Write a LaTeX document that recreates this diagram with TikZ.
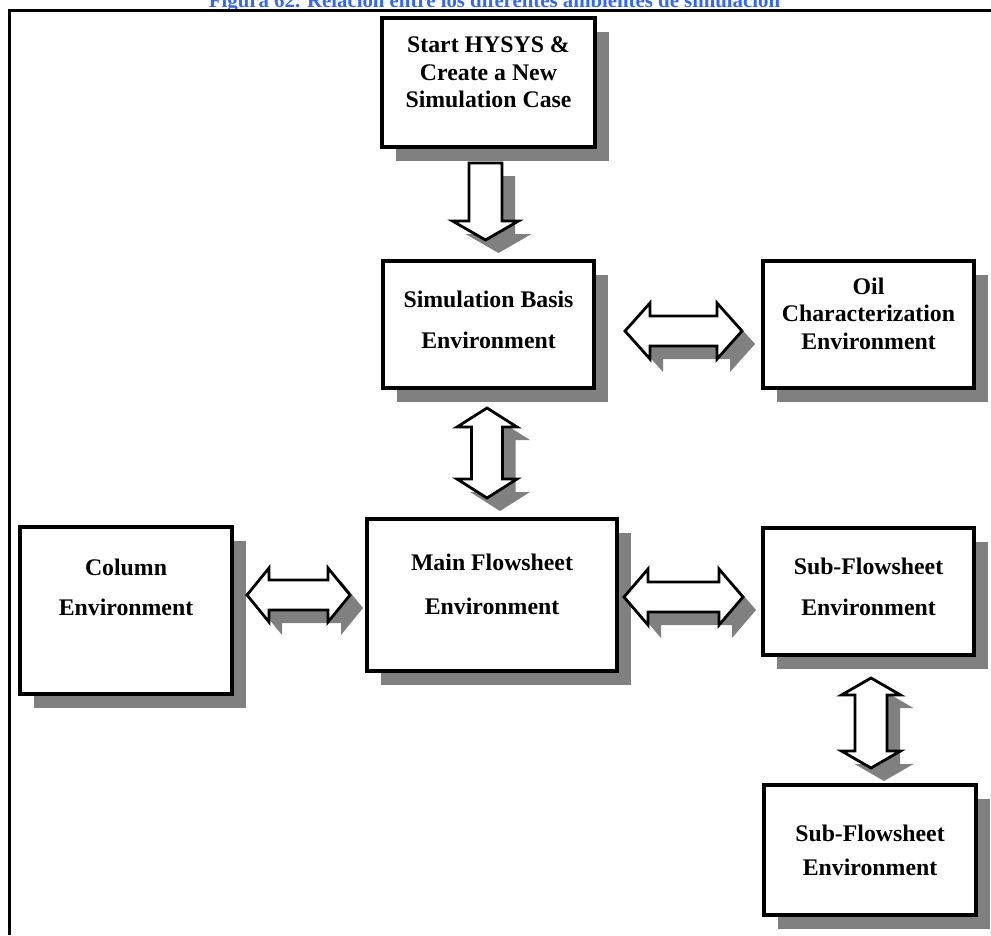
\documentclass[tikz,border=0pt]{standalone}
\usepackage{fontspec}
\setmainfont{Liberation Serif}
\usetikzlibrary{calc,shadows}

\definecolor{shadowgray}{RGB}{128,128,128}
\definecolor{titleblue}{RGB}{51,102,255}

\tikzset{
  envbox/.style={draw=black, line width=3.2pt, fill=white, inner sep=0pt, outer sep=0pt,
    drop shadow={shadow xshift=14pt, shadow yshift=-14pt, fill=shadowgray, opacity=1}},
  envtext/.style={font=\bfseries\fontsize{23.8}{#1}\selectfont, align=center, inner sep=0pt},
  blockarrow/.style={draw=black, line width=2.8pt, fill=white, line join=miter,
    drop shadow={shadow xshift=13pt, shadow yshift=-13pt, fill=shadowgray, opacity=1}},
  frameline/.style={line width=3pt, black, line join=miter},
}

% horizontal double block arrow: left tip, right tip, head length, head half width, shaft half width
\newcommand{\hdblarrow}[5]{%
  \draw[blockarrow] (#1) -- ($(#1)+(#3,-#4)$) -- ($(#1)+(#3,-#5)$) -- ($(#2)+(-#3,-#5)$)
    -- ($(#2)+(-#3,-#4)$) -- (#2) -- ($(#2)+(-#3,#4)$) -- ($(#2)+(-#3,#5)$)
    -- ($(#1)+(#3,#5)$) -- ($(#1)+(#3,#4)$) -- cycle;}
% vertical double block arrow: top tip, bottom tip, head length, head half width, shaft half width
\newcommand{\vdblarrow}[5]{%
  \draw[blockarrow] (#1) -- ($(#1)+(#4,#3)$) -- ($(#1)+(#5,#3)$) -- ($(#2)+(#5,-#3)$)
    -- ($(#2)+(#4,-#3)$) -- (#2) -- ($(#2)+(-#4,-#3)$) -- ($(#2)+(-#5,-#3)$)
    -- ($(#1)+(-#5,#3)$) -- ($(#1)+(-#4,#3)$) -- cycle;}
% downward single block arrow: shaft start, tip, head length, head half width, shaft half width
\newcommand{\vsglarrow}[5]{%
  \draw[blockarrow] ($(#1)+(-#5,0)$) -- ($(#1)+(#5,0)$) -- ($(#2)+(#5,-#3)$)
    -- ($(#2)+(#4,-#3)$) -- (#2) -- ($(#2)+(-#4,-#3)$) -- ($(#2)+(-#5,-#3)$) -- cycle;}

\begin{document}
\begin{tikzpicture}[x=1pt, y=-1pt]
\useasboundingbox (0,0) rectangle (991,935);

% caption and frame
\node[anchor=base, font=\bfseries\fontsize{20.8}{24}\selectfont, text=titleblue, inner sep=0pt]
  (title) at (494.5,7) {Figura 62. Relación entre los diferentes ambientes de simulación};
\coordinate (framebl) at (9.5,935);
\coordinate (frametl) at (9.5,10);
\coordinate (frametr) at (991,10);
\draw[frameline] (framebl) -- (frametl) -- (frametr);

% environment boxes
\node[envbox, minimum width=213pt, minimum height=129pt] (start) at (488.5,82.5) {};
\node[envbox, minimum width=211pt, minimum height=127pt] (sim) at (488.5,324.5) {};
\node[envbox, minimum width=211pt, minimum height=127pt] (oil) at (868.5,324.5) {};
\node[envbox, minimum width=212pt, minimum height=167pt] (column) at (126,610.5) {};
\node[envbox, minimum width=250pt, minimum height=152pt] (main) at (492,595) {};
\node[envbox, minimum width=211pt, minimum height=127pt] (sub1) at (868.5,591.5) {};
\node[envbox, minimum width=212pt, minimum height=130pt] (sub2) at (870,850) {};

% box labels
\node[envtext=27.5] (starttxt) at ($(start.center)+(0,-10)$) {Start HYSYS \&\\Create a New\\Simulation Case};
\node[envtext=41] (simtxt) at ($(sim.center)+(0,-5)$) {Simulation Basis\\Environment};
\node[envtext=27.5] (oiltxt) at ($(oil.center)+(0,-11)$) {Oil\\Characterization\\Environment};
\node[envtext=40] (columntxt) at ($(column.center)+(0,-23.5)$) {Column\\Environment};
\node[envtext=44] (maintxt) at ($(main.center)+(0,-11)$) {Main Flowsheet\\Environment};
\node[envtext=41] (sub1txt) at ($(sub1.center)+(0,-5)$) {Sub-Flowsheet\\Environment};
\node[envtext=34] (sub2txt) at ($(sub2.center)+(0,0)$) {Sub-Flowsheet\\Environment};

% connector end points
\coordinate (startS) at ($(start.south)+(-3,16)$);
\coordinate (startT) at ($(sim.north)+(-3,-21)$);
\coordinate (soL) at ($(sim.east)+(31,6.5)$);
\coordinate (soR) at ($(oil.west)+(-21,6.5)$);
\coordinate (smT) at ($(sim.south)+(-1.5,20)$);
\coordinate (smB) at ($(main.north)+(-5,-21)$);
\coordinate (cmL) at ($(column.east)+(15,-15.5)$);
\coordinate (cmR) at ($(main.west)+(-17,0)$);
\coordinate (msL) at ($(main.east)+(7,2)$);
\coordinate (msR) at ($(sub1.west)+(-20,5.5)$);
\coordinate (ssT) at ($(sub1.south)+(2.5,23)$);
\coordinate (ssB) at ($(sub2.north)+(1,-17)$);

% block arrows
\vsglarrow{startS}{startT}{19}{33}{16.5}
\hdblarrow{soL}{soR}{25}{28}{15}
\vdblarrow{smT}{smB}{19}{30}{15.5}
\hdblarrow{cmL}{cmR}{22}{27}{15}
\hdblarrow{msL}{msR}{24}{28}{15}
\vdblarrow{ssT}{ssB}{17}{29.5}{16}
\end{tikzpicture}
\end{document}
